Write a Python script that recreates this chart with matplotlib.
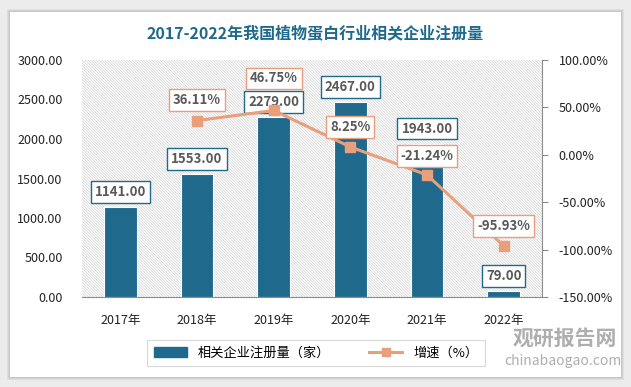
import matplotlib.pyplot as plt
import matplotlib.patches as mpatches
from matplotlib.lines import Line2D

plt.rcParams['font.family'] = ['Noto Sans CJK SC', 'DejaVu Sans']
plt.rcParams['hatch.color'] = '#d2d2d2'
plt.rcParams['hatch.linewidth'] = 0.5

years = ['2017年', '2018年', '2019年', '2020年', '2021年', '2022年']
counts = [1141, 1553, 2279, 2467, 1943, 79]
growth_years = [1, 2, 3, 4, 5]
growth = [36.11, 46.75, 8.25, -21.24, -95.93]
growth_offsets = [21, 32, 20, 19, 20]

bar_color = '#1f6a8c'
line_color = '#e99e7c'
label_grey = '#595959'

W, H = 631, 387
fig = plt.figure(figsize=(W / 100, H / 100), dpi=100)
fig.patch.set_facecolor('#ececec')

# white card with soft shadow
for i, a in enumerate([0.05, 0.05, 0.06]):
    d = 3 - i
    fig.patches.append(mpatches.Rectangle(((10 - d) / W, (H - 377 - d) / H),
                                          (611 + 2 * d) / W, (365 + 2 * d) / H,
                                          transform=fig.transFigure, facecolor='black',
                                          alpha=a, edgecolor='none', zorder=-10))
fig.patches.append(mpatches.Rectangle((10 / W, (H - 377) / H), 611 / W, 365 / H,
                                      transform=fig.transFigure, facecolor='white',
                                      edgecolor='none', zorder=-9))

ax = fig.add_axes([82 / W, (H - 297) / H, 460 / W, 237 / H])
ax.patch.set_facecolor('white')
ax.add_patch(mpatches.Rectangle((0, 0), 1, 1, transform=ax.transAxes, facecolor='white',
                                edgecolor='#d2d2d2', hatch='\\' * 12, lw=0.01, zorder=0.5))

x = list(range(len(years)))
bars = ax.bar(x, counts, width=0.43, color=bar_color, edgecolor='white', linewidth=0.8, zorder=2)
ax.set_xlim(-0.5, 5.5)
ax.set_ylim(0, 3000)
ax.set_yticks(range(0, 3001, 500))
ax.set_yticklabels([f'{v:.2f}' for v in range(0, 3001, 500)])
ax.set_xticks(x)
ax.set_xticklabels(years)
for s in ['top', 'left', 'right']:
    ax.spines[s].set_visible(False)
ax.spines['bottom'].set_color('#8c8c8c')
ax.tick_params(axis='y', length=0, labelsize=9, colors='#222222', pad=14)
ax.tick_params(axis='x', length=0, labelsize=9, colors='#222222', pad=12)

for xi, v in zip(x, counts):
    ax.annotate(f'{v:.2f}', (xi, v), xytext=(0, 15), textcoords='offset pixels',
                ha='center', va='center', fontsize=9.5, fontweight='bold', color=label_grey,
                bbox=dict(boxstyle='square,pad=0.3', fc='white', ec=bar_color, lw=1),
                zorder=5)

ax2 = ax.twinx()
ax2.set_ylim(-150, 100)
ax2.set_yticks(range(-150, 101, 50))
ax2.set_yticklabels([f'{v:.2f}%' for v in range(-150, 101, 50)])
for s in ['top', 'left', 'bottom']:
    ax2.spines[s].set_visible(False)
ax2.spines['right'].set_color('#8c8c8c')
ax2.tick_params(axis='y', length=4, direction='out', color='#8c8c8c', labelsize=9,
                labelcolor='#222222', pad=8)
ax2.plot(growth_years, growth, color=line_color, lw=2.2, marker='s', markersize=7, zorder=3)

for xi, v, off in zip(growth_years, growth, growth_offsets):
    ax2.annotate(f'{v:.2f}%', (xi, v), xytext=(0, off), textcoords='offset pixels',
                 ha='center', va='center', fontsize=9.5, fontweight='bold', color=label_grey,
                 bbox=dict(boxstyle='square,pad=0.3', fc='white', ec=line_color, lw=1),
                 zorder=5)

fig.text(315 / W, 1 - 33 / H, '2017-2022年我国植物蛋白行业相关企业注册量', ha='center', va='center',
         fontsize=11.5, fontweight='bold', color='#1f6a8c')

handles = [mpatches.Patch(color=bar_color),
           Line2D([], [], color=line_color, lw=2.2, marker='s', markersize=6)]
leg = fig.legend(handles, ['相关企业注册量（家）', '增速（%）'], loc='center',
                 bbox_to_anchor=(316 / W, 1 - 353 / H), ncol=2, frameon=True, fancybox=False,
                 fontsize=9.5, handlelength=2.5, columnspacing=3, borderpad=0.5)
leg.get_frame().set_edgecolor('#d0d0d0')
leg.get_frame().set_linewidth(0.8)

# watermark
fig.text(565 / W, 1 - 338 / H, '观研报告网', ha='center', va='center', fontsize=15,
         fontweight='bold', color='#9a9a9a', alpha=0.8)
fig.text(563 / W, 1 - 361 / H, 'chinabaogao.com', ha='center', va='center', fontsize=10,
         color='#9a9a9a', alpha=0.8)

fig.savefig('out.png', dpi=100)
